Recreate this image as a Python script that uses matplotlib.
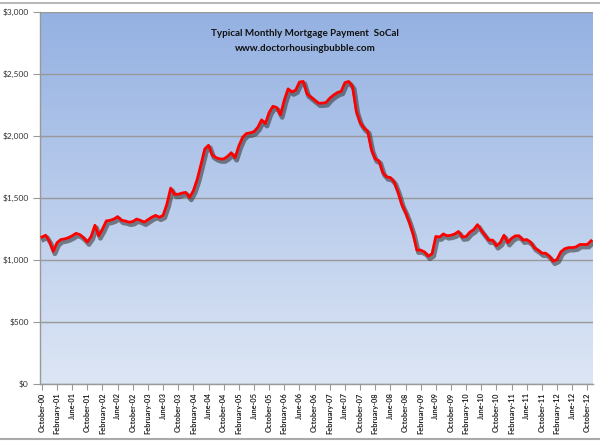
import matplotlib
matplotlib.use("Agg")
import matplotlib.pyplot as plt
import matplotlib.patheffects as pe
from matplotlib.lines import Line2D
from matplotlib.colors import LinearSegmentedColormap
import numpy as np
import pandas as pd

# ---- data ----
months = pd.date_range("2000-10-01", periods=146, freq="MS")
categories = [f"{d.strftime('%B')}-{d.strftime('%y')}" for d in months]

payment = [
    1185, 1200, 1150, 1070, 1140, 1165, 1170, 1180, 1195, 1215, 1205, 1180,
    1145, 1190, 1280, 1195, 1250, 1315, 1320, 1330, 1350, 1320, 1315, 1305,
    1310, 1330, 1320, 1305, 1325, 1345, 1360, 1345, 1360, 1450, 1580, 1530,
    1530, 1540, 1545, 1505, 1560, 1650, 1770, 1895, 1925, 1845, 1825, 1815,
    1815, 1835, 1865, 1825, 1920, 1990, 2020, 2025, 2035, 2070, 2130, 2100,
    2190, 2240, 2230, 2170, 2290, 2380, 2355, 2370, 2435, 2440, 2340, 2315,
    2290, 2265, 2265, 2270, 2305, 2330, 2350, 2360, 2430, 2440, 2400, 2200,
    2110, 2065, 2040, 1890, 1815, 1800, 1705, 1670, 1665, 1630, 1550, 1450,
    1385, 1305, 1210, 1080, 1080, 1065, 1030, 1050, 1190, 1185, 1210, 1195,
    1200, 1210, 1230, 1185, 1190, 1225, 1245, 1285, 1240, 1200, 1160, 1160,
    1115, 1140, 1200, 1140, 1175, 1195, 1195, 1160, 1165, 1145, 1100, 1080,
    1055, 1055, 1030, 990, 1005, 1065, 1090, 1100, 1100, 1105, 1125, 1125,
    1125, 1155,
]

y_ticks = [0, 500, 1000, 1500, 2000, 2500, 3000]
y_tick_labels = ["$0", "$500", "$1,000", "$1,500", "$2,000", "$2,500", "$3,000"]
title_lines = ["Typical Monthly Mortgage Payment  SoCal", "www.doctorhousingbubble.com"]

plt.rcParams["font.family"] = ["Lato", "DejaVu Sans"]

fig = plt.figure(figsize=(6.0, 4.41), dpi=100)
fig.patch.set_facecolor("white")
ax = fig.add_axes([40 / 600, 57 / 441, 553 / 600, 372 / 441])

# gradient background
cmap = LinearSegmentedColormap.from_list("bg", ["#94b1e2", "#dde6f5"])
grad = np.linspace(0, 1, 256).reshape(-1, 1)
ax.imshow(grad, cmap=cmap, aspect="auto", extent=[0, 1, 0, 1],
          transform=ax.transAxes, zorder=0)

x = np.arange(len(payment))
ax.plot(x, payment, color="#ff0000", lw=2.0, zorder=3, solid_joinstyle="round",
        path_effects=[pe.SimpleLineShadow(offset=(1.2, -1.8), shadow_color="#303030",
                                          alpha=0.55, linewidth=3.4),
                      pe.Normal()])

ax.set_xlim(-0.5, len(payment) - 0.5)
ax.set_ylim(0, 3000)
ax.set_yticks(y_ticks)
ax.set_yticklabels(y_tick_labels)
ax.yaxis.grid(True, color="#999999", lw=1.0, zorder=1)
for gl in ax.get_ygridlines():
    gl.set_zorder(1)

tick_idx = list(range(0, len(categories), 4))
ax.set_xticks(tick_idx)
ax.set_xticklabels([categories[i] for i in tick_idx], rotation=90,
                   fontsize=5.4, fontweight="bold", color="#222222")
ax.tick_params(axis="x", length=4, color="#999999", pad=2)
ax.tick_params(axis="y", length=5, color="#999999", labelsize=6.0,
               labelcolor="#333333", pad=3)

for side in ["top", "right"]:
    ax.spines[side].set_visible(False)
for side in ["left", "bottom"]:
    ax.spines[side].set_color("#999999")
    ax.spines[side].set_linewidth(1.0)

ax.text(0.479, 0.941, title_lines[0], transform=ax.transAxes, ha="center",
        va="center", fontsize=7.1, fontweight="bold", color="#111111", zorder=5)
ax.text(0.479, 0.903, title_lines[1], transform=ax.transAxes, ha="center",
        va="center", fontsize=7.1, fontweight="bold", color="#111111", zorder=5)

fig.add_artist(Line2D([0, 1], [1 - 2.5 / 441] * 2, color="#aaaaaa", lw=1.2,
                      transform=fig.transFigure))
fig.add_artist(Line2D([0, 1], [2 / 441] * 2, color="#aaaaaa", lw=1.5,
                      transform=fig.transFigure))

fig.savefig("out.png", dpi=100, facecolor="white")
